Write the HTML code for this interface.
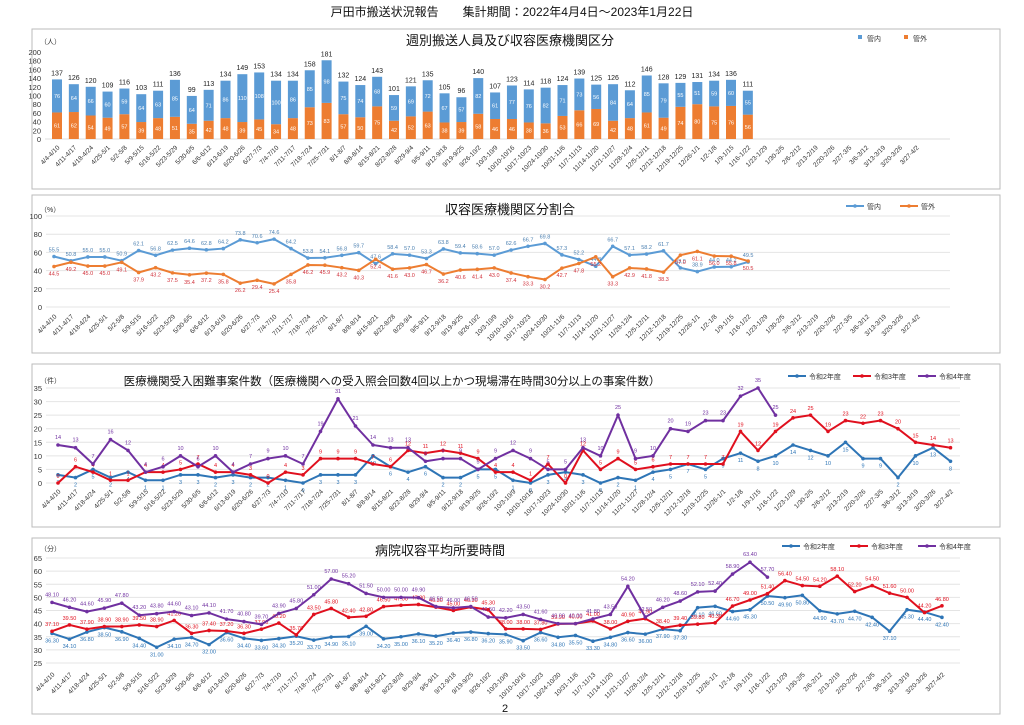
<!DOCTYPE html>
<html><head><meta charset="utf-8"><style>
body{margin:0;background:#fff;}
svg{display:block;font-family:"Liberation Sans","Noto Sans CJK JP",sans-serif;}
</style></head><body>
<svg id="s" width="1024" height="725" viewBox="0 0 1024 725" xmlns="http://www.w3.org/2000/svg">
<text x="512" y="16" text-anchor="middle" font-size="12" fill="#111">戸田市搬送状況報告　　集計期間：2022年4月4日～2023年1月22日</text>
<rect x="32" y="29" width="968" height="160" fill="none" stroke="#bbb"/>
<rect x="32" y="195" width="968" height="158" fill="none" stroke="#bbb"/>
<rect x="32" y="364" width="968" height="163" fill="none" stroke="#bbb"/>
<rect x="32" y="538" width="968" height="176" fill="none" stroke="#bbb"/>
<text x="510" y="45" text-anchor="middle" font-size="13" fill="#111">週別搬送人員及び収容医療機関区分</text>
<text x="510" y="214" text-anchor="middle" font-size="13" fill="#111">収容医療機関区分割合</text>
<text x="392" y="385" text-anchor="middle" font-size="11.5" fill="#111">医療機関受入困難事案件数（医療機関への受入照会回数4回以上かつ現場滞在時間30分以上の事案件数）</text>
<text x="440" y="555" text-anchor="middle" font-size="13" fill="#111">病院収容平均所要時間</text>
<text x="505" y="712" text-anchor="middle" font-size="11" fill="#111">2</text>
<g id="g"></g>
</svg>
<script>
const cats=["4/4-4/10","4/11-4/17","4/18-4/24","4/25-5/1","5/2-5/8","5/9-5/15","5/16-5/22","5/23-5/29","5/30-6/5","6/6-6/12","6/13-6/19","6/20-6/26","6/27-7/3","7/4-7/10","7/11-7/17","7/18-7/24","7/25-7/31","8/1-8/7","8/8-8/14","8/15-8/21","8/22-8/28","8/29-9/4","9/5-9/11","9/12-9/18","9/19-9/25","9/26-10/2","10/3-10/9","10/10-10/16","10/17-10/23","10/24-10/30","10/31-11/6","11/7-11/13","11/14-11/20","11/21-11/27","11/28-12/4","12/5-12/11","12/12-12/18","12/19-12/25","12/26-1/1","1/2-1/8","1/9-1/15","1/16-1/22","1/23-1/29","1/30-2/5","2/6-2/12","2/13-2/19","2/20-2/26","2/27-3/5","3/6-3/12","3/13-3/19","3/20-3/26","3/27-4/2"];
const kangai=[61,62,54,49,57,39,48,51,35,42,48,39,45,34,48,73,83,57,50,75,42,52,63,38,39,58,46,46,38,36,53,66,69,42,48,61,49,74,80,75,76,56];
const kannai=[76,64,66,60,59,64,63,85,64,71,86,110,108,100,86,85,98,75,74,68,59,69,72,67,57,82,61,77,76,82,71,73,56,84,64,85,79,55,51,59,60,55];
const pctIn=[55.5,50.8,55.0,55.0,50.9,62.1,56.8,62.5,64.6,62.8,64.2,73.8,70.6,74.6,64.2,53.8,54.1,56.8,59.7,47.6,58.4,57.0,53.3,63.8,59.4,58.6,57.0,62.6,66.7,69.8,57.3,52.2,44.8,66.7,57.1,58.2,61.7,43.0,38.9,44.0,44.2,49.5];
const pctOut=[44.5,49.2,45.0,45.0,49.1,37.9,43.2,37.5,35.4,37.2,35.8,26.2,29.4,25.4,35.8,46.2,45.9,43.2,40.3,52.4,41.6,43.0,46.7,36.2,40.6,41.4,43.0,37.4,33.3,30.2,42.7,47.8,55.2,33.3,42.9,41.8,38.3,57.0,61.1,56.0,55.8,50.5];
const caseR2=[3,2,5,2,4,1,1,3,3,2,3,2,2,1,0,3,3,3,10,6,4,6,2,2,5,5,1,0,3,4,3,0,2,1,4,5,7,5,9,11,8,10,14,12,10,15,9,9,2,10,13,8];
const caseR3=[0,6,4,1,1,4,4,5,7,4,4,3,0,4,3,9,9,9,7,6,12,11,12,11,9,4,4,1,7,0,12,5,9,5,6,7,7,7,7,19,12,19,24,25,19,23,22,23,20,15,14,13];
const caseR4=[14,13,7,16,12,4,6,10,6,10,4,7,9,10,7,19,31,21,14,13,13,8,9,9,5,9,12,9,5,5,13,10,25,9,10,20,19,23,23,32,35,25];
const timeR2=[36.3,34.1,36.8,38.5,36.9,34.4,31.0,34.1,34.7,32.0,36.6,34.4,33.6,34.3,35.2,33.7,34.9,35.1,39.0,34.2,35.0,36.1,35.2,36.4,36.8,36.2,35.9,33.5,36.6,34.8,35.5,33.3,34.8,36.6,36.0,37.9,37.3,46.1,46.6,44.6,45.3,50.5,49.9,50.8,44.9,43.7,44.7,42.4,37.1,45.3,44.4,42.4];
const timeR3=[37.1,39.5,37.9,38.9,38.9,39.5,38.9,41.2,36.3,37.4,37.2,36.3,37.9,40.2,35.7,43.5,45.8,42.4,42.8,46.5,47.0,47.3,46.3,45.0,46.3,45.3,38.0,38.0,37.8,39.9,40.0,41.0,38.0,40.9,41.9,38.4,39.4,39.8,40.3,46.7,49.0,51.4,56.4,54.5,54.2,58.1,52.2,54.5,51.6,50.0,44.2,46.8];
const timeR4=[48.1,46.2,44.6,45.9,47.8,43.2,43.8,44.6,43.1,44.1,41.7,40.8,39.7,43.9,45.8,51.0,57.0,55.2,51.5,50.0,50.0,49.9,46.5,46.0,46.5,42.5,42.2,43.5,41.6,40.0,40.0,41.8,43.5,54.2,42.5,46.2,48.6,52.1,52.4,58.9,63.4,57.7];
const ticks1=[0,20,40,60,80,100,120,140,160,180,200];
const ticks2=[0,20,40,60,80,100];
const ticks3=[0,5,10,15,20,25,30,35];
const ticks4=[25,30,35,40,45,50,55,60,65];

const NS="http://www.w3.org/2000/svg";
const G=document.getElementById('g');
function mk(tag,at,txt){const e=document.createElementNS(NS,tag);for(const k in at)e.setAttribute(k,at[k]);if(txt!==undefined)e.textContent=txt;G.appendChild(e);return e;}
function axis(x0,step,y0,y1,vmin,vmax){return {x:i=>x0+i*step,y:v=>y0-(v-vmin)/(vmax-vmin)*(y0-y1)};}
function yTicks(A,ticks,xl,xr,grid,name){ticks.forEach(t=>{
  const e=mk('text',{x:xl,y:A.y(t)+3,'text-anchor':'end','font-size':7.5,fill:'#333'},t);
  
  
  if(grid){const l=mk('line',{x1:xl+4,x2:xr,y1:A.y(t),y2:A.y(t),stroke:'#e4e4e4','stroke-width':1});
  
  }
});}
function xLabels(A,yb,name){cats.forEach((c,i)=>{const x=A.x(i)+3,y=yb;
  const e=mk('text',{x:x,y:y,'text-anchor':'end','font-size':6.5,fill:'#333',transform:`rotate(-45 ${x} ${y})`},c);
  
  });}
function series(A,vals,color,lc,dy,fmt,name){
  const pts=vals.map((v,i)=>A.x(i)+','+A.y(v)).join(' ');
  const p=mk('polyline',{points:pts,fill:'none',stroke:color,'stroke-width':2});
  
  
  vals.forEach((v,i)=>{const c=mk('circle',{cx:A.x(i),cy:A.y(v),r:1.8,fill:color});
    
    
    const t=mk('text',{x:A.x(i),y:A.y(v)+dy,'text-anchor':'middle','font-size':5.5,fill:lc},fmt(v));
    
    });
}
function legend(items,y){items.forEach(([x,color,label,line])=>{
  if(line){const l=mk('line',{x1:x,x2:x+18,y1:y-3,y2:y-3,stroke:color,'stroke-width':2});
    
    
    const c=mk('circle',{cx:x+9,cy:y-3,r:1.8,fill:color});
    
    }
  else{const r=mk('rect',{x:x+12,y:y-6,width:4,height:4,fill:color});
    
    }
  const t=mk('text',{x:x+21,y:y,'font-size':7,fill:'#333'},label);
  
  
});}
const BLUE='#5b9bd5',ORANGE='#ed7d31';
const A1=axis(57,16.85,139,52,0,200);
mk('text',{x:40,y:44,'font-size':7,fill:'#333'},'（人）');
yTicks(A1,ticks1,41,950,false,'chart1');
mk('line',{x1:45,x2:950,y1:139,y2:139,stroke:'#ddd'});
kangai.forEach((o,i)=>{const n=kannai[i],x=A1.x(i)-5,tot=o+n;
  const r1=mk('rect',{x:x,y:A1.y(o),width:10,height:A1.y(0)-A1.y(o),fill:ORANGE});
  
  
  const r2=mk('rect',{x:x,y:A1.y(tot),width:10,height:A1.y(o)-A1.y(tot),fill:BLUE});
  
  
  const t=mk('text',{x:x+5,y:A1.y(tot)-4,'text-anchor':'middle','font-size':7,fill:'#222'},tot);
  
  
  const t1=mk('text',{x:x+5,y:(A1.y(0)+A1.y(o))/2+2,'text-anchor':'middle','font-size':5.5,fill:'#fff'},o);
  
  
  const t2=mk('text',{x:x+5,y:(A1.y(o)+A1.y(tot))/2+2,'text-anchor':'middle','font-size':5.5,fill:'#fff'},n);
  
  
});
xLabels(A1,148,'chart1');
legend([[846,BLUE,'管内',false],[892,ORANGE,'管外',false]],41);
const A2=axis(54,16.93,307,216,0,100);
mk('text',{x:40,y:212,'font-size':7,fill:'#333'},'（%）');
yTicks(A2,ticks2,42,950,true,'chart2');
series(A2,pctIn,BLUE,'#4a7fb0',-5,v=>v.toFixed(1),'chart2-kannai');
series(A2,pctOut,ORANGE,'#d0303a',9,v=>v.toFixed(1),'chart2-kangai');
xLabels(A2,317,'chart2');
legend([[846,BLUE,'管内',true],[900,ORANGE,'管外',true]],209);
const A3=axis(58,17.5,483,388,0,35);
mk('text',{x:40,y:383,'font-size':7,fill:'#333'},'（件）');
yTicks(A3,ticks3,42,960,true,'chart3');
series(A3,caseR2,'#2e75b6','#2e75b6',9,v=>v,'chart3-r2');
series(A3,caseR3,'#e0101e','#e0101e',-5,v=>v,'chart3-r3');
series(A3,caseR4,'#7030a0','#7030a0',-6,v=>v,'chart3-r4');
xLabels(A3,492,'chart3');
legend([[788,'#2e75b6','令和2年度',true],[853,'#e0101e','令和3年度',true],[918,'#7030a0','令和4年度',true]],379);
const A4=axis(52,17.45,663,558,25,65);
mk('text',{x:40,y:551,'font-size':7,fill:'#333'},'（分）');
yTicks(A4,ticks4,42,960,true,'chart4');
series(A4,timeR2,'#2e75b6','#2e75b6',9,v=>v.toFixed(2),'chart4-r2');
series(A4,timeR3,'#e0101e','#e0101e',-5,v=>v.toFixed(2),'chart4-r3');
series(A4,timeR4,'#7030a0','#7030a0',-6,v=>v.toFixed(2),'chart4-r4');
xLabels(A4,675,'chart4');
legend([[782,'#2e75b6','令和2年度',true],[850,'#e0101e','令和3年度',true],[918,'#7030a0','令和4年度',true]],549);
</script>
</body></html>
